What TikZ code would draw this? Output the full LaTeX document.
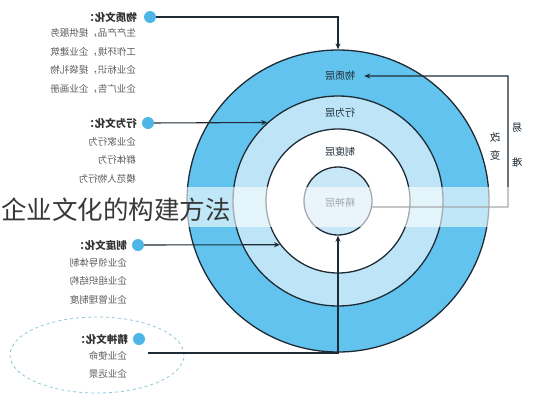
\documentclass[tikz,border=0pt]{standalone}
\usepackage{fontspec}
\usepackage{graphicx}
\setmainfont{Noto Sans CJK SC}
\usetikzlibrary{arrows.meta,shapes.geometric}

\definecolor{ringdark}{HTML}{62C4EE}
\definecolor{ringlight}{HTML}{BDE5F7}
\definecolor{corelight}{HTML}{C8E8F7}
\definecolor{edge}{HTML}{1E2B36}
\definecolor{dotblue}{HTML}{4DB6E6}
\definecolor{dashblue}{HTML}{8CC8D8}
\definecolor{rowgray}{HTML}{5A5A5A}

\newcommand{\flip}[1]{\reflectbox{#1}}

\tikzset{
  ring/.style={circle, draw=edge, line width=1.3pt, inner sep=0pt},
  dot/.style={circle, fill=dotblue, minimum size=12pt, inner sep=0pt},
  head/.style={anchor=east, inner sep=0pt, font=\bfseries\fontsize{10.5}{12}\selectfont, text=black!80},
  row/.style={anchor=east, inner sep=0pt, font=\fontsize{9.5}{11}\selectfont, text=rowgray},
  layer/.style={inner sep=0pt, font=\fontsize{10}{12}\selectfont, text=edge},
  side/.style={inner sep=0pt, font=\fontsize{10.5}{12}\selectfont, text=edge},
  link/.style={-{Stealth[length=6pt,width=5pt]}, line width=1.1pt, draw=edge},
}

\begin{document}
\begin{tikzpicture}[x=1pt,y=-1pt]
        \useasboundingbox (0,0) rectangle (539,400);

        % Rings
        \node[ring, fill=ringdark, minimum size=302pt] (outer) at (338,201) {};
        \node[ring, fill=ringlight, minimum size=210pt] (xwring) at (338,201) {};
        \node[ring, fill=white, minimum size=144pt] (zdring) at (338,201) {};
        \node[ring, fill=corelight, minimum size=68pt] (inner) at (338,201) {};

        % Layer labels
        \node[layer] (wzceng) at (340,76) {\flip{物质层}};
        \node[layer] (xwceng) at (340,113) {\flip{行为层}};
        \node[layer] (zdceng) at (340,152) {\flip{制度层}};
        \node[layer] (jsceng) at (340,203) {\flip{精神层}};

        % Dots and headings
        \node[dot] (wzdot) at (150,17) {};
        \node[head] (wzhead) at (137,17) {\flip{物质文化：}};
        \node[dot] (xwdot) at (148,123) {};
        \node[head] (xwhead) at (137,123) {\flip{行为文化：}};
        \node[dot] (zddot) at (138,245) {};
        \node[head] (zdhead) at (127,245) {\flip{制度文化：}};
        \node[dot] (jsdot) at (139,339) {};
        \node[head] (jshead) at (128,339) {\flip{精神文化：}};

        % Rows
        \foreach \t [count=\i] in {生产产品，提供服务, 工作环境，企业建筑, 企业标识，提袋礼物, 企业广告，企业画册}
            \node[row] (wz\i) at (136,14.5+18.5*\i) {\flip{\t}};
        \foreach \t [count=\i] in {企业家行为, 群体行为, 模范人物行为}
            \node[row] (xw\i) at (136,123+18.5*\i) {\flip{\t}};
        \foreach \t [count=\i] in {企业领导体制, 企业组织结构, 企业管理制度}
            \node[row] (zd\i) at (127,244.5+18.3*\i) {\flip{\t}};
        \foreach \t [count=\i] in {企业使命, 企业远景}
            \node[row] (js\i) at (127,338+18*\i) {\flip{\t}};

        \node[ellipse, draw=dashblue, dashed, line width=0.8pt, minimum width=174pt, minimum height=76pt] (jsloop) at (97,355) {};

        % Connectors
        \draw[link] (wzdot) -| (outer.north);
        \draw[link] (xwdot) -- (xwring.132);
        \draw[link] (zddot) -- (zdring.217);
        \coordinate (jsstart) at (148,353);
        \draw[link] (jsstart) -| (inner.south);

        \coordinate (turn) at (508,207);
        \draw[link] (inner.-10) -- (turn) |- ([xshift=9pt]wzceng.east);

        \node[side] (gai) at (495,138) {\flip{改}};
        \node[side] (bian) at (495,155) {\flip{变}};
        \node[side] (yi) at (517,128) {\flip{易}};
        \node[side] (nan) at (517,163) {\flip{难}};

        % Title band
        \fill[white, opacity=0.6] (0,187) rectangle (539,227);
        \node[anchor=west, inner sep=0pt, font=\fontsize{25.5}{28}\selectfont, text=black!78] (title) at (1,210) {企业文化的构建方法};
\end{tikzpicture}
\end{document}
